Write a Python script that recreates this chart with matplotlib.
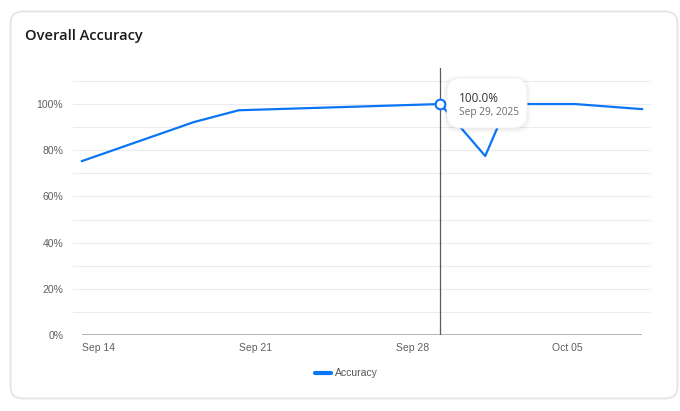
import numpy as np
import matplotlib
matplotlib.use("Agg")
import matplotlib.pyplot as plt
from matplotlib.patches import FancyBboxPatch
from datetime import datetime, timedelta

# data
dates = ["2025-09-14", "2025-09-19", "2025-09-21", "2025-09-30",
         "2025-10-02", "2025-10-03", "2025-10-06", "2025-10-09"]
accuracy = [75.3, 92.2, 97.3, 100.0, 77.5, 100.0, 100.0, 97.8]
tick_dates = ["2025-09-14", "2025-09-21", "2025-09-28", "2025-10-05"]
tick_labels = ["Sep 14", "Sep 21", "Sep 28", "Oct 05"]
y_ticks = [0, 20, 40, 60, 80, 100]
y_grid = [10, 20, 30, 40, 50, 60, 70, 80, 90, 100, 110]
hover_index = 3
hover_value = "100.0%"
hover_label = "Sep 29, 2025"

x = [datetime.strptime(d, "%Y-%m-%d") for d in dates]
xt = [datetime.strptime(d, "%Y-%m-%d") for d in tick_dates]

blue = "#0a76f5"
W, H = 680, 411

fig = plt.figure(figsize=(6.8, 4.11), dpi=100)
fig.patch.set_facecolor("white")

# card
card = FancyBboxPatch((10.5 / W, 1 - 398.5 / H), 667 / W, 387 / H,
                      boxstyle="round,pad=0,rounding_size=0.018",
                      transform=fig.transFigure, facecolor="white",
                      edgecolor="#e3e3e3", linewidth=1.2, mutation_aspect=W / H,
                      zorder=-10)
fig.patches.append(card)

fig.text(25 / W, 1 - 36 / H, "Overall Accuracy", fontsize=10.5, fontweight="semibold",
         family="Open Sans", color="#1a1a1a", va="center", ha="left")

ax = fig.add_axes([73 / W, 1 - 335 / H, 578 / W, 267 / H])
ax.set_facecolor("none")
for s in ax.spines.values():
    s.set_visible(False)

x0 = x[0] - timedelta(days=0.4)
x1 = x[-1] + timedelta(days=0.4)
ax.set_xlim(x0, x1)
ax.set_ylim(0, 115.6)

for g in y_grid:
    ax.axhline(g, color="#ececec", linewidth=0.8, zorder=1)
# axis line under the data range
ax.plot([x[0], x[-1]], [0, 0], color="#a8a8a8", linewidth=1.2, zorder=2,
        solid_capstyle="butt")

ax.plot(x, accuracy, color=blue, linewidth=1.6, zorder=4)

# hover cursor and active dot
ax.axvline(x[hover_index], color="#5a5a5a", linewidth=0.9, zorder=3)
ax.plot([x[hover_index]], [accuracy[hover_index]], marker="o", markersize=7,
        markerfacecolor="white", markeredgecolor=blue, markeredgewidth=1.5, zorder=6)

ax.set_yticks(y_ticks)
ax.set_yticklabels([f"{v}%" for v in y_ticks])
ax.set_xticks(xt)
ax.set_xticklabels(tick_labels, ha="left")
ax.tick_params(axis="both", length=0, labelsize=7.5, labelcolor="#5f5f5f")
ax.tick_params(axis="y", pad=7)
ax.tick_params(axis="x", pad=6)
for lab in ax.get_xticklabels() + ax.get_yticklabels():
    lab.set_family("Liberation Sans")

# tooltip
for off, alpha in [(4, 0.012), (3, 0.015), (2, 0.02), (1, 0.025)]:
    sh = FancyBboxPatch(((447 - off) / W, 1 - (129 + off) / H), (80 + 2 * off) / W, (50 + 2 * off) / H,
                        boxstyle="round,pad=0,rounding_size=0.022", transform=fig.transFigure,
                        facecolor="black", edgecolor="none", alpha=alpha,
                        mutation_aspect=W / H, zorder=9)
    fig.patches.append(sh)
tip = FancyBboxPatch((447 / W, 1 - 128 / H), 80 / W, 50 / H,
                     boxstyle="round,pad=0,rounding_size=0.02", transform=fig.transFigure,
                     facecolor="white", edgecolor="#f2f2f2", linewidth=0.6,
                     mutation_aspect=W / H, zorder=10)
fig.patches.append(tip)
fig.text(459 / W, 1 - 98 / H, hover_value, fontsize=8.5, family="Open Sans",
         color="#333333", va="center", ha="left", zorder=11)
fig.text(459 / W, 1 - 113 / H, hover_label, fontsize=7.3, family="Open Sans",
         color="#6b6b6b", va="center", ha="left", zorder=11)

# legend
fig.lines.append(plt.Line2D([315 / W, 331 / W], [1 - 373 / H, 1 - 373 / H],
                            transform=fig.transFigure, color=blue, linewidth=3,
                            solid_capstyle="round"))
fig.text(335 / W, 1 - 373 / H, "Accuracy", fontsize=7.5, family="Liberation Sans",
         color="#555555", va="center", ha="left")

fig.savefig("out.png", dpi=100, facecolor="white")
